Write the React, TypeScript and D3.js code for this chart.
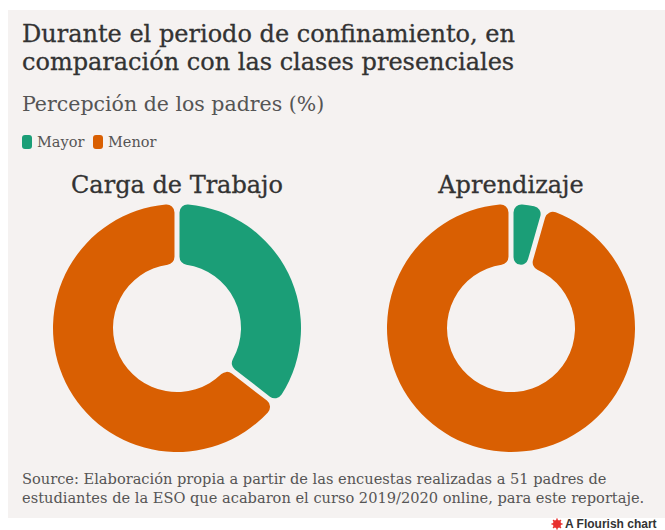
import React from "react";
import * as d3 from "d3";

const seriesNames = ["Mayor", "Menor"];
const colors = ["#1b9e77", "#d95f02"];
const chartTitles = ["Carga de Trabajo", "Aprendizaje"];
const cargaValues = [35.3, 64.7];
const aprendizajeValues = [3.9, 96.1];

const W = 665;
const H = 530;
const serif = "'DejaVu Serif', serif";

function Donut({ cx, cy, title, values }: { cx: number; cy: number; title: string; values: number[] }) {
  const pie = d3.pie<number>().sort(null).value((d) => d).padAngle(0.036);
  const arc = d3.arc<d3.PieArcDatum<number>>().innerRadius(64).outerRadius(124).cornerRadius(8);
  const arcs = pie(values);
  return (
    <g>
      <text x={cx} y={193} textAnchor="middle" fontFamily={serif} fontSize={24} fill="#333" stroke="#333" strokeWidth={0.3}>
        {title}
      </text>
      <g transform={`translate(${cx},${cy})`}>
        {arcs.map((a, i) => (
          <path key={i} d={arc(a) || ""} fill={colors[i]} />
        ))}
      </g>
    </g>
  );
}

export default function App() {
  const legendX = [22, 93];
  return (
    <svg width={W} height={H} style={{ position: "absolute", left: 0, top: 0 }}>
      <rect x={0} y={0} width={W} height={H} fill="#ffffff" />
      <rect x={8} y={10} width={W - 8} height={508} fill="#f5f2f1" />
      <text x={22} y={42} fontFamily={serif} fontSize={24} fill="#333" stroke="#333" strokeWidth={0.3}>
        Durante el periodo de confinamiento, en
      </text>
      <text x={22} y={70} fontFamily={serif} fontSize={24} fill="#333" stroke="#333" strokeWidth={0.3}>
        comparación con las clases presenciales
      </text>
      <text x={22} y={111} fontFamily={serif} fontSize={20.5} fill="#555">
        Percepción de los padres (%)
      </text>
      {seriesNames.map((n, i) => {
        const x = legendX[i];
        return (
          <g key={n}>
            <rect x={x} y={135} width={10} height={14} rx={3} fill={colors[i]} />
            <text x={x + 15} y={147} fontFamily={serif} fontSize={14.5} fill="#555">
              {n}
            </text>
          </g>
        );
      })}
      <Donut cx={177} cy={328} title={chartTitles[0]} values={cargaValues} />
      <Donut cx={511} cy={328} title={chartTitles[1]} values={aprendizajeValues} />
      <text x={22} y={484} fontFamily={serif} fontSize={14.6} fill="#555">
        Source: Elaboración propia a partir de las encuestas realizadas a 51 padres de
      </text>
      <text x={22} y={503} fontFamily={serif} fontSize={14.6} fill="#555">
        estudiantes de la ESO que acabaron el curso 2019/2020 online, para este reportaje.
      </text>
      <g transform="translate(557,524)">
        <circle r={4} fill="#e8312f" />
        {d3.range(8).map((k) => (
          <line key={k} x1={0} y1={0} x2={5.5 * Math.cos((k * Math.PI) / 4)} y2={5.5 * Math.sin((k * Math.PI) / 4)} stroke="#e8312f" strokeWidth={1.5} />
        ))}
      </g>
      <text x={565} y={528} fontFamily="'Liberation Sans', Arial, sans-serif" fontSize={12} fontWeight="bold" fill="#333">
        A Flourish chart
      </text>
    </svg>
  );
}
